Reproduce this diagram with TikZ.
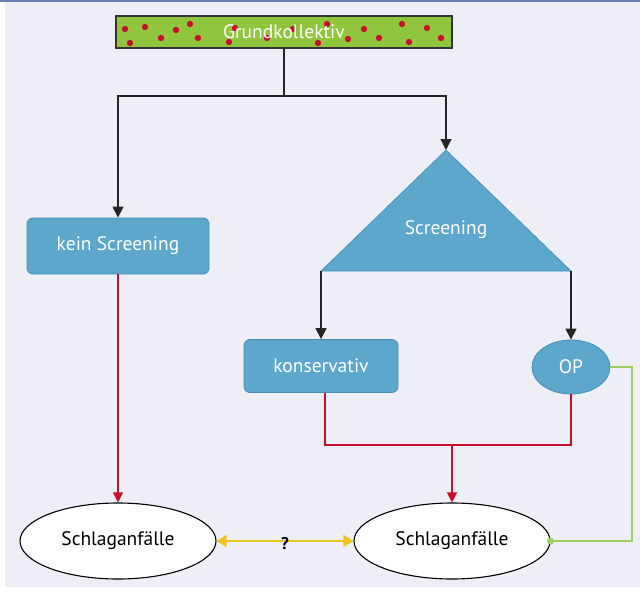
\documentclass[tikz,border=0pt]{standalone}
\usepackage{fontspec}
\setmainfont{PT Sans}
\usetikzlibrary{arrows.meta,shapes.geometric}
\definecolor{bgc}{HTML}{EEEEF7}
\definecolor{topc}{HTML}{6B7EBA}
\definecolor{boxblue}{HTML}{5CA7CB}
\definecolor{boxedge}{HTML}{4690B5}
\definecolor{barg}{HTML}{8FC63D}
\definecolor{dotred}{HTML}{C8102E}
\definecolor{linered}{HTML}{C8102E}
\definecolor{lineyel}{HTML}{EDC51D}
\definecolor{linegrn}{HTML}{9DCE5F}
\tikzset{
  lbl/.style={font=\fontsize{19.5}{22}\selectfont},
  blk/.style={draw=black!85, line width=1.2pt},
  blkarrow/.style={blk, -{Triangle[length=11pt,width=11pt]}},
  redline/.style={draw=linered, line width=1.1pt},
  redarrow/.style={redline, -{Triangle[length=10pt,width=10pt]}},
  bluebox/.style={lbl, draw=boxedge, fill=boxblue, line width=0.8pt, rounded corners=6pt, text=white, inner sep=0pt},
  blueoval/.style={lbl, ellipse, draw=boxedge, fill=boxblue, line width=0.8pt, text=white, inner sep=0pt},
  whiteoval/.style={lbl, ellipse, draw=black, fill=white, line width=1.1pt, text=black, inner sep=0pt, minimum width=196pt, minimum height=76pt},
}
\begin{document}
\begin{tikzpicture}[x=1pt,y=-1pt]
\useasboundingbox (0,0) rectangle (640,594);
\fill[bgc] (5,2) rectangle (640,587);
\fill[topc] (0,0) rectangle (640,2);

% Grundkollektiv bar
\node[draw=black!80, fill=barg, line width=1.2pt, minimum width=336pt, minimum height=32pt, inner sep=0pt] (grund) at (284,32) {};
\foreach \x/\y in {125/29,130/43,145/27,161/38,176/30,190/24,198/38,229/42,235/28,267/38,293/29,318/43,327/24,348/39,364/29,379/38,402/24,409/42,427/28,441/38}
  \fill[dotred] (\x,\y) circle (3.2pt);
\node[lbl, text=white, inner sep=0pt] (grundtext) at (284,32) {Grundkollektiv};

% blue nodes
\node[bluebox, minimum width=182pt, minimum height=56pt] (kein) at (118,246) {kein Screening};
\node[bluebox, minimum width=154pt, minimum height=53pt] (kons) at (321,366) {konservativ};
\node[blueoval, minimum width=78pt, minimum height=54pt] (op) at (571,367) {OP};

% triangle
\coordinate (tA) at (446,150);
\coordinate (tL) at (321,271);
\coordinate (tR) at (571,271);
\fill[boxblue, draw=boxedge, line width=0.6pt] (tA) -- (tR) -- (tL) -- cycle;
\node[lbl, text=white, inner sep=0pt] (screen) at (446,230) {Screening};

% outcome ellipses
\node[whiteoval] (sl) at (118,541) {Schlaganfälle};
\node[whiteoval] (sr) at (452,541) {Schlaganfälle};

% black connectors
\coordinate (j) at (284,96);
\draw[blk] (grund.south) -- (j);
\draw[blkarrow] (j) -| (kein.north);
\draw[blkarrow] (j) -| (tA);
\draw[blkarrow] (tL) -- (kons.north);
\draw[blkarrow] (tR) -- (op.north);

% red connectors
\coordinate (m) at (452,445);
\draw[redarrow] (kein.south) -- (sl.north);
\draw[redline] ([xshift=4pt]kons.south) -- ([xshift=4pt]kons.south |- m) -| (op.south);
\draw[redarrow] (m) -- (sr.north);

% yellow double arrow
\draw[draw=lineyel, line width=1.3pt, {Triangle[length=10pt,width=12pt]}-{Triangle[length=10pt,width=12pt]}] (sl.east) -- (sr.west);
\node[font=\bfseries\fontsize{17}{20}\selectfont, inner sep=0pt] (q) at (285,544) {?};

% green connector
\coordinate (g) at (632,541);
\draw[draw=linegrn, line width=1.2pt] (op.east) -- (op.east -| g) -- (g) -- (sr.east);
\fill[linegrn] (sr.east) circle (3.6pt);
\end{tikzpicture}
\end{document}
